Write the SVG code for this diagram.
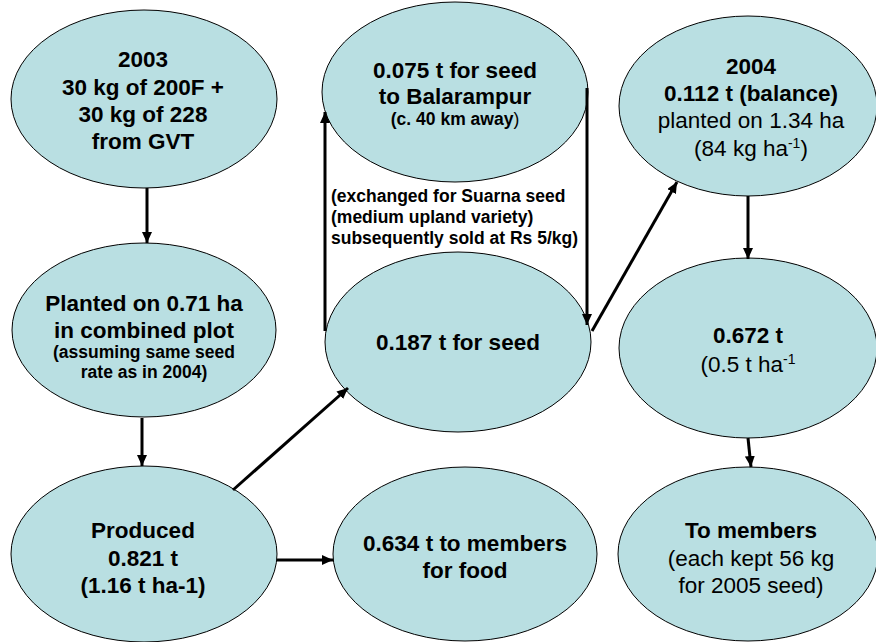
<svg xmlns="http://www.w3.org/2000/svg" width="876" height="642" viewBox="0 0 876 642">
<style>
.n{fill:#B9DFE2;stroke:#000;stroke-width:1}
text{font-family:"Liberation Sans",Arial,sans-serif;fill:#000;text-anchor:middle}
.b{font-weight:bold;font-size:22.5px}
.r{font-weight:normal;font-size:22.5px}
.s{font-weight:bold;font-size:17.5px}
.c line{stroke:#000;stroke-width:3;marker-end:url(#ah)}
</style>
<defs>
<marker id="ah" markerUnits="userSpaceOnUse" markerWidth="11" markerHeight="10" refX="11" refY="5" orient="auto">
<path d="M0,0 L11,5 L0,10 z" fill="#000"/>
</marker>
</defs>
<rect width="876" height="642" fill="#fff"/>
<g id="n1"><ellipse class="n" cx="144" cy="99" rx="133" ry="89"/>
<text class="b"><tspan x="143" y="67">2003</tspan><tspan x="143" y="95">30 kg of 200F +</tspan><tspan x="143" y="122">30 kg of 228</tspan><tspan x="143" y="149">from GVT</tspan></text></g>
<g id="n2"><ellipse class="n" cx="455" cy="92" rx="133" ry="90"/>
<text class="b"><tspan x="455" y="78">0.075 t for seed</tspan><tspan x="455" y="104">to Balarampur</tspan></text>
<text class="s" x="455" y="125">(c. 40 km away<tspan font-weight="normal">)</tspan></text></g>
<g id="n3"><ellipse class="n" cx="748" cy="106" rx="129" ry="90"/>
<text class="b"><tspan x="751" y="74">2004</tspan><tspan x="751" y="101">0.112 t (balance)</tspan></text>
<text class="r"><tspan x="751" y="128">planted on 1.34 ha</tspan><tspan x="751" y="156">(84 kg ha<tspan font-size="14" dy="-8">-1</tspan><tspan dy="8">)</tspan></tspan></text></g>
<g id="n4"><ellipse class="n" cx="144" cy="330" rx="132" ry="87"/>
<text class="b"><tspan x="144" y="311">Planted on 0.71 ha</tspan><tspan x="144" y="338">in combined plot</tspan></text>
<text class="s"><tspan x="144" y="358">(assuming same seed</tspan><tspan x="144" y="378">rate as in 2004)</tspan></text></g>
<g id="n5"><ellipse class="n" cx="458" cy="342" rx="133" ry="90"/>
<text class="b" x="458" y="350">0.187 t for seed</text></g>
<g id="n6"><ellipse class="n" cx="748" cy="348" rx="129" ry="90"/>
<text class="b" x="748" y="343">0.672 t</text>
<text class="r" x="748" y="372">(0.5 t ha<tspan font-size="14" dy="-8">-1</tspan></text></g>
<g id="n7"><ellipse class="n" cx="144" cy="554" rx="133" ry="88"/>
<text class="b"><tspan x="143" y="538">Produced</tspan><tspan x="143" y="566">0.821 t</tspan><tspan x="143" y="593">(1.16 t ha-1)</tspan></text></g>
<g id="n8"><ellipse class="n" cx="465" cy="554" rx="132" ry="87"/>
<text class="b"><tspan x="465" y="551">0.634 t to members</tspan><tspan x="465" y="578">for food</tspan></text></g>
<g id="n9"><ellipse class="n" cx="748" cy="554" rx="130" ry="87"/>
<text class="b" x="751" y="538">To members</text>
<text class="r"><tspan x="751" y="566">(each kept 56 kg</tspan><tspan x="751" y="593">for 2005 seed)</tspan></text></g>
<g id="label"><text class="s" style="text-anchor:start"><tspan x="331" y="202">(exchanged for Suarna seed</tspan><tspan x="331" y="223">(medium upland variety)</tspan><tspan x="331" y="244">subsequently sold at Rs 5/kg)</tspan></text></g>
<g id="connectors" class="c">
<line x1="147" y1="188" x2="147" y2="243"/>
<line x1="142" y1="418" x2="142" y2="466"/>
<line x1="233" y1="490" x2="348" y2="388"/>
<line x1="277" y1="560" x2="333" y2="560"/>
<line x1="325" y1="331" x2="325" y2="112"/>
<line x1="587" y1="88" x2="587" y2="325"/>
<line x1="592" y1="331" x2="677" y2="182"/>
<line x1="748" y1="196" x2="748" y2="259"/>
<line x1="748" y1="438" x2="751" y2="467"/>
</g>
</svg>
